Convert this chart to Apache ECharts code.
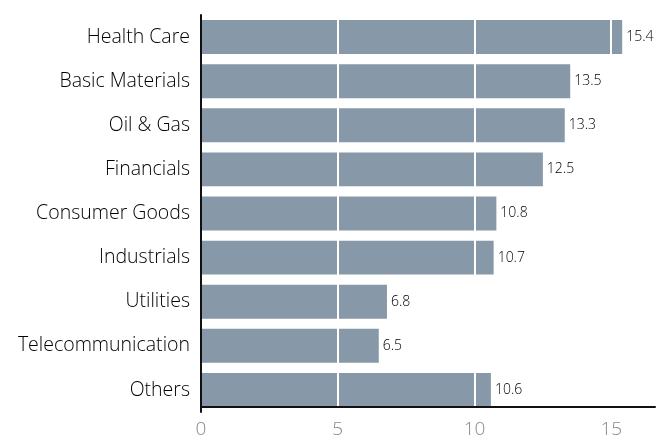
<!DOCTYPE html>
<html><head><meta charset="utf-8">
<script src="https://cdn.jsdelivr.net/npm/echarts@6/dist/echarts.min.js"></script>
<style>html,body{margin:0;padding:0;background:#fff}#c{width:658px;height:439px}</style>
</head><body><div id="c"></div>
<script>
const categories = ["Health Care","Basic Materials","Oil & Gas","Financials","Consumer Goods","Industrials","Utilities","Telecommunication","Others"];
const values = [15.4,13.5,13.3,12.5,10.8,10.7,6.8,6.5,10.6];
const xTicks = [0,5,10,15];
const chart = echarts.init(document.getElementById('c'));
chart.setOption({
  animation:false,
  grid:{left:201,right:0,top:15,bottom:26,containLabel:false},
  xAxis:{type:'value',min:0,max:16.6,interval:5,z:5,offset:-5,
    axisLine:{show:true,onZero:false,lineStyle:{color:'#111',width:2}},
    axisTick:{show:false},
    splitLine:{show:true,lineStyle:{color:'#fff',width:2}},
    axisLabel:{color:'#888',fontFamily:'Open Sans',fontSize:19,fontWeight:300,margin:13,
      formatter:v=>xTicks.includes(v)?String(v):''}
  },
  yAxis:{type:'category',data:categories,inverse:true,z:6,
    axisLine:{show:true,lineStyle:{color:'#111',width:2}},
    axisTick:{show:false},
    axisLabel:{color:'#000',fontFamily:'Open Sans',fontSize:19.5,fontWeight:300,margin:11}
  },
  series:[{type:'bar',data:values,barCategoryGap:'23%',
    itemStyle:{color:'#8799a8'},
    label:{show:true,position:'right',distance:4,color:'#000',fontFamily:'Open Sans',fontSize:14,fontWeight:300}
  }]
});
</script></body></html>
